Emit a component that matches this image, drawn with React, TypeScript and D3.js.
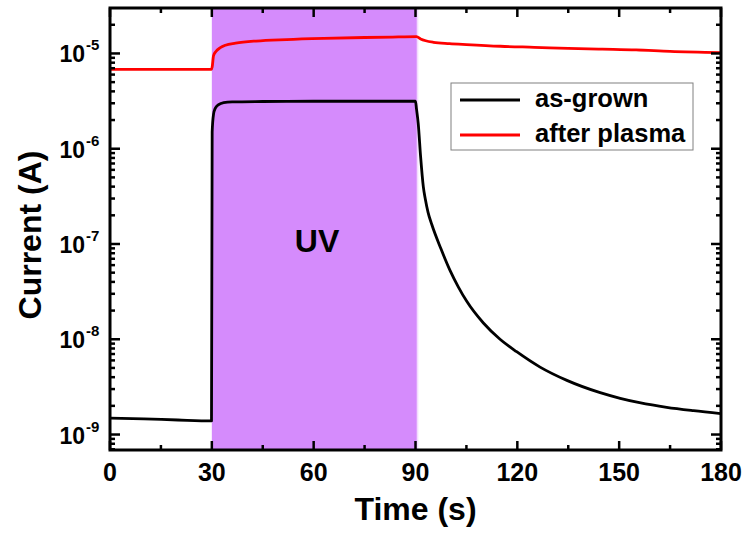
import React, { useEffect, useRef } from 'react';
import * as d3 from 'd3';

// as-grown sample
const tGrown = [0, 10, 20, 29.9, 30.1, 30.5, 31, 32, 33.5, 36, 45, 60, 75, 90, 90.3, 90.8, 91.5, 92.3, 92.9, 93.7, 94.8, 97.5, 100.2, 102.6, 105.1, 110, 114.9, 119.8, 126.7, 134.6, 144.4, 150.3, 156, 164, 171.9, 180];
const iGrown = [1.49e-9, 1.46e-9, 1.42e-9, 1.39e-9, 1.5e-6, 2.3e-6, 2.65e-6, 2.9e-6, 3.05e-6, 3.1e-6, 3.13e-6, 3.15e-6, 3.15e-6, 3.15e-6, 2.6e-6, 1.85e-6, 8.3e-7, 4.0e-7, 2.95e-7, 2.15e-7, 1.6e-7, 8.9e-8, 5.25e-8, 3.55e-8, 2.5e-8, 1.48e-8, 1.0e-8, 7.4e-9, 5.1e-9, 3.7e-9, 2.75e-9, 2.4e-9, 2.16e-9, 1.93e-9, 1.78e-9, 1.66e-9];

// after plasma sample
const tPlasma = [0, 15, 29.9, 30.1, 30.5, 31.2, 32.5, 34, 37, 43, 52, 63, 75, 85, 90.3, 91.5, 93, 95.3, 100, 105, 115, 125, 135, 145, 155, 165, 180];
const iPlasma = [6.82e-6, 6.82e-6, 6.82e-6, 7.2e-6, 9.5e-6, 1.05e-5, 1.15e-5, 1.22e-5, 1.28e-5, 1.35e-5, 1.4e-5, 1.44e-5, 1.47e-5, 1.49e-5, 1.5e-5, 1.42e-5, 1.36e-5, 1.31e-5, 1.27e-5, 1.24e-5, 1.19e-5, 1.16e-5, 1.13e-5, 1.11e-5, 1.09e-5, 1.05e-5, 1.02e-5];

const seriesNames = ['as-grown', 'after plasma'];
const seriesColors = ['#000000', '#ff0000'];
const uvRange = [30, 90.4];
const xTicks = [0, 30, 60, 90, 120, 150, 180];
const xMinorTicks = [15, 45, 75, 105, 135, 165];
const yMajorExp = [-9, -8, -7, -6, -5];

const FONT = "'Liberation Sans', Arial, Helvetica, sans-serif";

const App = () => {
  const ref = useRef<SVGSVGElement>(null);

  useEffect(() => {
    if (!ref.current) return;
    const width = 745;
    const height = 535;
    const margin = { top: 8, right: 24, bottom: 85, left: 110 };

    const svg = d3.select(ref.current);
    svg.selectAll('*').remove();

    const x = d3.scaleLinear().domain([0, 180]).range([margin.left, width - margin.right]);
    const y = d3.scaleLog().domain([6.88e-10, 3.0e-5]).range([height - margin.bottom, margin.top]);
    const [x0, x1] = x.range();
    const [y0, y1] = y.range();

    // UV illumination window
    svg.append('rect')
      .attr('x', x(uvRange[0]))
      .attr('y', y1)
      .attr('width', x(uvRange[1]) - x(uvRange[0]))
      .attr('height', y0 - y1)
      .attr('fill', '#d58bfc');
    svg.append('rect')
      .attr('x', x(uvRange[1]))
      .attr('y', y1)
      .attr('width', 1.5)
      .attr('height', y0 - y1)
      .attr('fill', '#f3dcff');

    svg.append('text')
      .attr('x', x(61))
      .attr('y', 252)
      .attr('text-anchor', 'middle')
      .style('font-family', FONT)
      .style('font-weight', 'bold')
      .style('font-size', '32px')
      .text('UV');

    const line = d3.line<[number, number]>()
      .x(d => x(d[0]))
      .y(d => y(d[1]))
      .curve(d3.curveMonotoneX);

    const series = [
      tGrown.map((t, i) => [t, iGrown[i]] as [number, number]),
      tPlasma.map((t, i) => [t, iPlasma[i]] as [number, number]),
    ];
    series.forEach((s, i) => {
      svg.append('path')
        .datum(s)
        .attr('d', line)
        .attr('fill', 'none')
        .attr('stroke', seriesColors[i])
        .attr('stroke-width', 2.8)
        .attr('stroke-linejoin', 'round');
    });

    // log minor ticks
    const yMinor: number[] = [];
    for (let e = -10; e <= -5; e++) {
      for (let k = 2; k <= 9; k++) {
        const v = k * Math.pow(10, e);
        if (v > y.domain()[0] && v < y.domain()[1]) yMinor.push(v);
      }
    }
    const yMajor = yMajorExp.map(e => Math.pow(10, e));

    const tickG = svg.append('g').attr('stroke', '#000').attr('stroke-width', 2.5);
    const hTick = (vals: number[], len: number) => {
      vals.forEach(v => {
        tickG.append('line').attr('x1', x(v)).attr('x2', x(v)).attr('y1', y0).attr('y2', y0 - len);
        tickG.append('line').attr('x1', x(v)).attr('x2', x(v)).attr('y1', y1).attr('y2', y1 + len);
      });
    };
    const vTick = (vals: number[], len: number) => {
      vals.forEach(v => {
        tickG.append('line').attr('y1', y(v)).attr('y2', y(v)).attr('x1', x0).attr('x2', x0 + len);
        tickG.append('line').attr('y1', y(v)).attr('y2', y(v)).attr('x1', x1).attr('x2', x1 - len);
      });
    };
    hTick(xTicks, 9);
    hTick(xMinorTicks, 5);
    vTick(yMajor, 10);
    vTick(yMinor, 5);

    // frame
    svg.append('rect')
      .attr('x', x0)
      .attr('y', y1)
      .attr('width', x1 - x0)
      .attr('height', y0 - y1)
      .attr('fill', 'none')
      .attr('stroke', '#000')
      .attr('stroke-width', 3);

    // x tick labels
    svg.append('g').selectAll('text')
      .data(xTicks)
      .enter().append('text')
      .attr('x', d => x(d))
      .attr('y', 481)
      .attr('text-anchor', 'middle')
      .style('font-family', FONT)
      .style('font-weight', 'bold')
      .style('font-size', '25px')
      .text(d => d);

    // y tick labels: 10^n
    svg.append('g').selectAll('text')
      .data(yMajorExp)
      .enter().append('text')
      .attr('x', 85)
      .attr('y', d => y(Math.pow(10, d)) + 9)
      .attr('text-anchor', 'end')
      .style('font-family', FONT)
      .style('font-weight', 'bold')
      .style('font-size', '23px')
      .text('10');
    svg.append('g').selectAll('text')
      .data(yMajorExp)
      .enter().append('text')
      .attr('x', 86)
      .attr('y', d => y(Math.pow(10, d)) - 3)
      .style('font-family', FONT)
      .style('font-weight', 'bold')
      .style('font-size', '15px')
      .text(d => '-' + Math.abs(d));

    // axis titles
    svg.append('text')
      .attr('x', (x0 + x1) / 2)
      .attr('y', 520)
      .attr('text-anchor', 'middle')
      .style('font-family', FONT)
      .style('font-weight', 'bold')
      .style('font-size', '32px')
      .text('Time (s)');
    svg.append('text')
      .attr('transform', 'translate(41, 235) rotate(-90)')
      .attr('text-anchor', 'middle')
      .style('font-family', FONT)
      .style('font-weight', 'bold')
      .style('font-size', '32px')
      .text('Current (A)');

    // legend
    const lg = svg.append('g');
    lg.append('rect')
      .attr('x', 451)
      .attr('y', 83)
      .attr('width', 242)
      .attr('height', 67)
      .attr('fill', '#fff')
      .attr('stroke', '#808080')
      .attr('stroke-width', 1);
    seriesNames.forEach((name, i) => {
      const ly = 100 + i * 35;
      lg.append('line')
        .attr('x1', 460).attr('x2', 520)
        .attr('y1', ly).attr('y2', ly)
        .attr('stroke', seriesColors[i])
        .attr('stroke-width', 3);
      lg.append('text')
        .attr('x', 535)
        .attr('y', ly + 7)
        .style('font-family', FONT)
        .style('font-weight', 'bold')
        .style('font-size', '25.5px')
        .text(name);
    });
  }, []);

  return (
    <svg
      ref={ref}
      width={745}
      height={535}
      style={{ position: 'absolute', left: 0, top: 0, background: '#fff' }}
    />
  );
};

export default App;
